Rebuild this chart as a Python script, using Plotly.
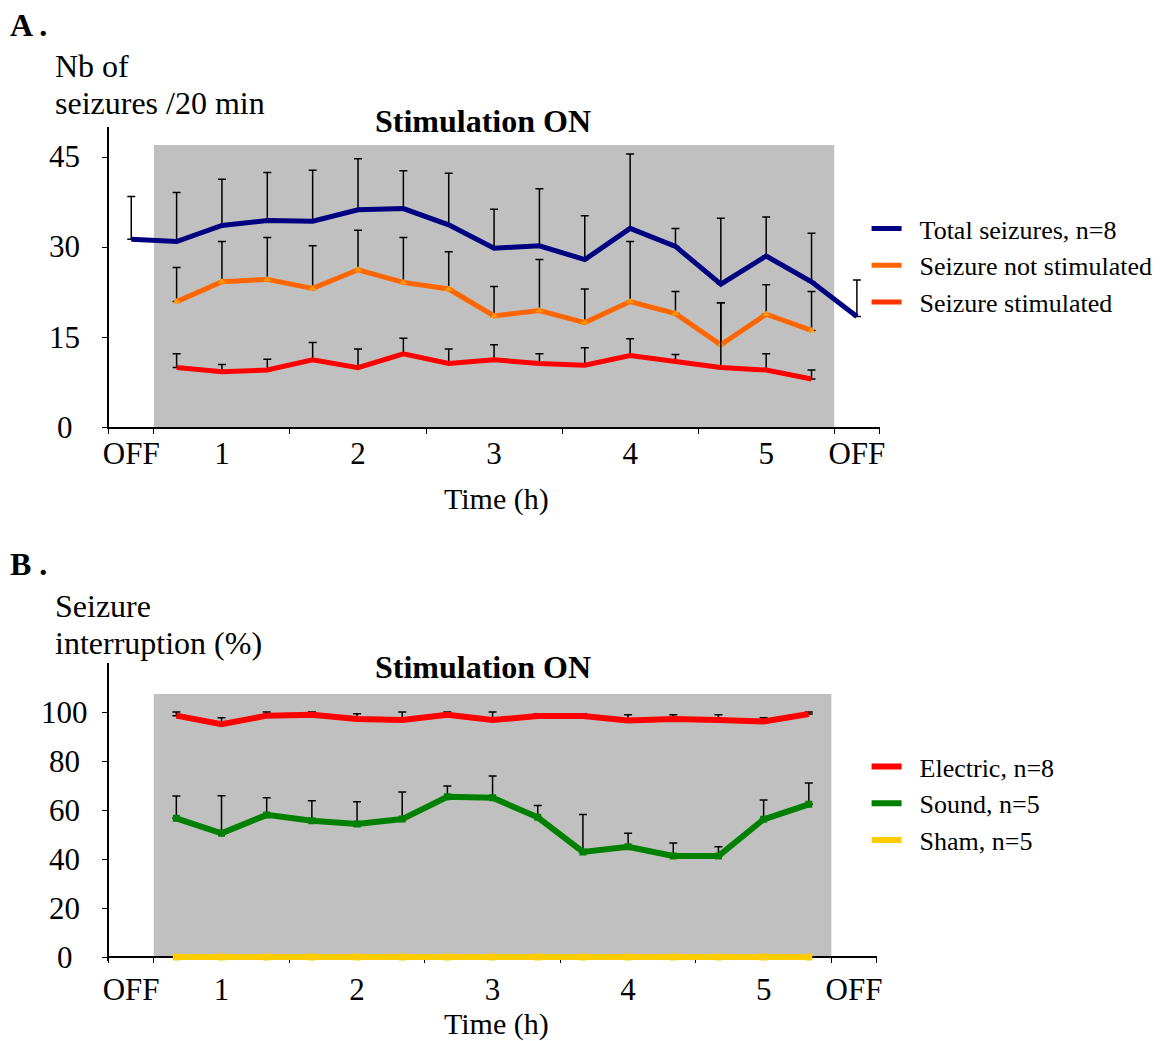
import plotly.graph_objects as go

# ---------------- data ----------------
# x positions are category indices: 0 = OFF (before), 1..15 = 20-min bins during stimulation, 16 = OFF (after)
cat_all = list(range(17))
cat_stim = list(range(1, 16))
tick_pos = [0, 2, 5, 8, 11, 14, 16]
tick_text = ["OFF", "1", "2", "3", "4", "5", "OFF"]
bin_edges = [-0.5, 0.5, 3.5, 6.5, 9.5, 12.5, 15.5, 16.5]

# Panel A: number of seizures / 20 min
total = [31.3, 30.9, 33.6, 34.4, 34.3, 36.2, 36.4, 33.7, 29.8, 30.2, 27.9, 33.1, 30.1, 23.8, 28.5, 24.2, 18.4]
total_err = [7.1, 8.2, 7.7, 8.0, 8.5, 8.5, 6.3, 8.6, 6.5, 9.5, 7.3, 12.4, 3.0, 11.0, 6.5, 8.1, 6.1]
not_stim = [20.9, 24.2, 24.6, 23.1, 26.2, 24.1, 23.0, 18.5, 19.4, 17.4, 20.9, 18.9, 13.7, 18.8, 16.1]
not_stim_err = [5.7, 6.7, 7.0, 7.1, 6.6, 7.5, 6.2, 4.9, 8.5, 5.6, 10.0, 3.7, 7.0, 4.9, 6.5]
stim = [9.9, 9.2, 9.5, 11.2, 9.9, 12.2, 10.6, 11.2, 10.6, 10.3, 11.9, 10.9, 9.9, 9.5, 8.0]
stim_err = [2.3, 1.2, 1.8, 2.9, 3.1, 2.6, 2.4, 2.5, 1.6, 2.9, 2.8, 1.2, 10.8, 2.7, 1.5]
yticks_A = [0, 15, 30, 45]

# Panel B: seizure interruption (%)
electric = [98.5, 95.0, 98.5, 98.9, 97.1, 96.7, 98.9, 96.7, 98.4, 98.4, 96.5, 97.1, 96.7, 96.1, 99.2]
electric_err = [1.5, 2.7, 1.5, 1.1, 2.2, 3.3, 1.1, 3.3, 0.9, 0.9, 2.4, 1.8, 2.2, 1.6, 0.8]
sound = [56.6, 50.5, 58.0, 55.6, 54.3, 56.3, 65.4, 65.0, 57.0, 42.9, 45.0, 41.2, 41.2, 56.2, 62.3]
sound_err = [9.1, 15.3, 7.0, 8.2, 9.1, 11.0, 4.4, 8.9, 4.8, 15.3, 5.5, 5.3, 3.8, 7.9, 8.7]
sham = [0, 0, 0, 0, 0, 0, 0, 0, 0, 0, 0, 0, 0, 0, 0]
yticks_B = [0, 20, 40, 60, 80, 100]

# ---------------- styling ----------------
FONT = "Liberation Serif, Times New Roman, serif"
W, H = 1165, 1041
OY = 8  # page body margin (vertical)
SX, OXS = 0.991, 13.3  # horizontal page mapping observed in the photo


def px_x(p):
    return ((p - OXS) / SX) / W


def px_y(p):
    return 1 - (p - OY) / H


def err(arr):
    return dict(type="data", symmetric=False, array=arr, arrayminus=[0] * len(arr),
                color="black", thickness=1.5, width=4)


NB = "\u00a0\u00a0"  # small gap between legend line and label

fig = go.Figure()

# Panel A traces
fig.add_trace(go.Scatter(x=cat_all, y=total, mode="lines", name=NB + "Total seizures, n=8",
                         line=dict(color="#000080", width=5), error_y=err(total_err),
                         xaxis="x", yaxis="y", legend="legend"))
fig.add_trace(go.Scatter(x=cat_stim, y=not_stim, mode="lines+markers", name="Seizure not stimulated",
                         line=dict(color="#FF6600", width=5),
                         marker=dict(symbol="triangle-up", size=7, color="#FF9900"),
                         error_y=err(not_stim_err), xaxis="x", yaxis="y", showlegend=False))
fig.add_trace(go.Scatter(x=cat_stim, y=stim, mode="lines", name="Seizure stimulated",
                         line=dict(color="#FF0000", width=5), error_y=err(stim_err),
                         xaxis="x", yaxis="y", showlegend=False))
# legend entries (line only)
fig.add_trace(go.Scatter(x=[None], y=[None], mode="lines", name=NB + "Seizure not stimulated",
                         line=dict(color="#FF6600", width=5), xaxis="x", yaxis="y", legend="legend"))
fig.add_trace(go.Scatter(x=[None], y=[None], mode="lines", name=NB + "Seizure stimulated",
                         line=dict(color="#FF3300", width=5), xaxis="x", yaxis="y", legend="legend"))

# Panel B traces
fig.add_trace(go.Scatter(x=cat_stim, y=electric, mode="lines", name=NB + "Electric, n=8",
                         line=dict(color="#FF0000", width=6), error_y=err(electric_err),
                         xaxis="x2", yaxis="y2", legend="legend2"))
fig.add_trace(go.Scatter(x=cat_stim, y=sound, mode="lines+markers", name="Sound, n=5",
                         line=dict(color="#008000", width=6),
                         marker=dict(symbol="square", size=7, color="#008000"),
                         error_y=err(sound_err), xaxis="x2", yaxis="y2", showlegend=False))
fig.add_trace(go.Scatter(x=cat_stim, y=sham, mode="lines+markers", name="Sham, n=5",
                         line=dict(color="#FFCC00", width=6),
                         marker=dict(symbol="square", size=7, color="#FFCC00"),
                         xaxis="x2", yaxis="y2", showlegend=False, cliponaxis=False))
fig.add_trace(go.Scatter(x=[None], y=[None], mode="lines", name=NB + "Sound, n=5",
                         line=dict(color="#008000", width=6), xaxis="x2", yaxis="y2", legend="legend2"))
fig.add_trace(go.Scatter(x=[None], y=[None], mode="lines", name=NB + "Sham, n=5",
                         line=dict(color="#FFCC00", width=6), xaxis="x2", yaxis="y2", legend="legend2"))

xaxis_common = dict(
    range=[-0.5, 16.5], showgrid=False, zeroline=False, showline=True, linecolor="black", linewidth=1.5,
    tickmode="array", tickvals=tick_pos, ticktext=tick_text, ticks="outside", ticklen=1,
    tickcolor="rgba(0,0,0,0)", tickfont=dict(family=FONT, size=31, color="black"),
    minor=dict(tickmode="array", tickvals=bin_edges, ticks="outside", ticklen=5, tickcolor="black",
               tickwidth=1, showgrid=False),
    fixedrange=True,
)
yaxis_common = dict(
    showgrid=False, zeroline=False, showline=True, linecolor="black", linewidth=1.5,
    ticks="outside", ticklen=5, tickcolor="black", tickwidth=1, showticklabels=False,
    fixedrange=True,
)

# panel B: y range slightly below 0 so the sham line at 0 is not clipped; x axis sits at y = 0
B_ymin = -1.5
B_px_per_unit = (957 - 712) / 100.0

legend_font = dict(family=FONT, size=26, color="black")
fig.update_layout(
    width=W, height=H, margin=dict(l=0, r=0, t=0, b=0),
    paper_bgcolor="white", plot_bgcolor="white",
    font=dict(family=FONT, color="black"),
    xaxis=dict(xaxis_common, domain=[px_x(108), px_x(880)], anchor="y", ticklabelstandoff=-3),
    yaxis=dict(yaxis_common, domain=[px_y(427), px_y(127)], range=[0, 50], anchor="x",
               tickvals=yticks_A),
    xaxis2=dict(xaxis_common, domain=[px_x(108), px_x(877)], anchor="free", position=px_y(957),
                layer="below traces", ticklen=5),
    yaxis2=dict(yaxis_common, domain=[px_y(957 - B_ymin * B_px_per_unit), px_y(663)],
                range=[B_ymin, 120], anchor="x2", tickvals=yticks_B),
    legend=dict(x=px_x(867), y=px_y(205), xanchor="left", yanchor="top", bgcolor="rgba(0,0,0,0)",
                font=legend_font, itemwidth=30, tracegroupgap=0),
    legend2=dict(x=px_x(867), y=px_y(743), xanchor="left", yanchor="top", bgcolor="rgba(0,0,0,0)",
                 font=legend_font, itemwidth=30, tracegroupgap=0),
    showlegend=True,
)

# Stimulation ON shaded periods
fig.add_shape(type="rect", xref="x", yref="y", x0=0.5, x1=15.5, y0=0, y1=47,
              fillcolor="#C0C0C0", line=dict(width=0), layer="below")
fig.add_shape(type="rect", xref="x2", yref="y2", x0=0.5, x1=15.5, y0=0, y1=107.3,
              fillcolor="#C0C0C0", line=dict(width=0), layer="below")

ann = []
# y tick labels (centered, as in the original)
for v in yticks_A:
    ann.append(dict(x=px_x(64), xref="paper", y=v, yref="y", text=str(v), showarrow=False,
                    xanchor="center", yanchor="middle", font=dict(family=FONT, size=31)))
for v in yticks_B:
    ann.append(dict(x=px_x(64), xref="paper", y=v, yref="y2", text=str(v), showarrow=False,
                    xanchor="center", yanchor="middle", font=dict(family=FONT, size=31)))

texts = [
    ("<b>A .</b>", 7, 25, 32, "left"),
    ("Nb of", 52, 66, 32, "left"),
    ("seizures /20 min", 52, 103, 32, "left"),
    ("<b>Stimulation ON</b>", 483, 121, 32, "center"),
    ("Time (h)", 496, 499, 30, "center"),
    ("<b>B .</b>", 7, 564, 32, "left"),
    ("Seizure", 52, 606, 32, "left"),
    ("interruption (%)", 52, 643, 32, "left"),
    ("<b>Stimulation ON</b>", 483, 667, 32, "center"),
    ("Time (h)", 496, 1024, 30, "center"),
]
for t, x, y, s, anc in texts:
    ann.append(dict(x=px_x(x), y=px_y(y), xref="paper", yref="paper", text=t, showarrow=False,
                    xanchor=anc, yanchor="middle", font=dict(family=FONT, size=s, color="black")))
fig.update_layout(annotations=ann)

fig.write_html("out.html")
